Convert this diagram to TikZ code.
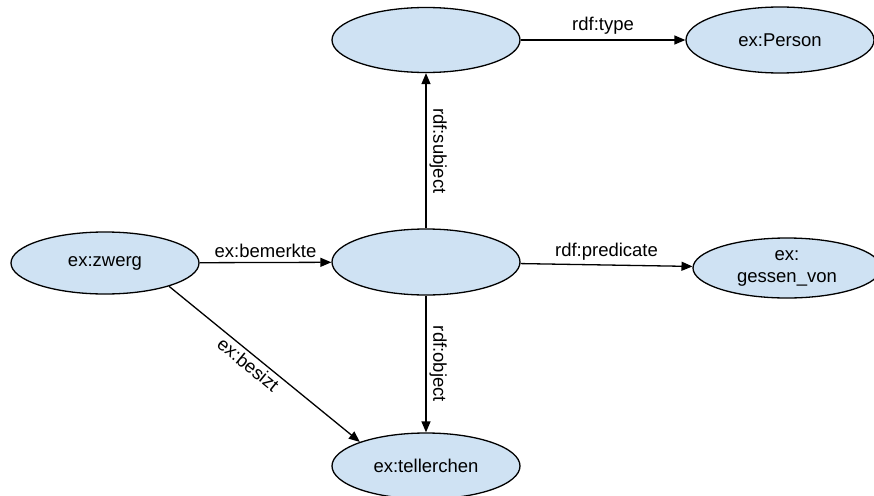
\documentclass[tikz,border=0pt]{standalone}
\usepackage{fontspec}
\setmainfont{Liberation Sans}
\usetikzlibrary{shapes.geometric,arrows.meta}
\definecolor{resfill}{RGB}{207,226,243}
\tikzset{
	res/.style={ellipse, draw=black, fill=resfill, line width=1.3pt, inner sep=0pt, align=center,
		minimum width=188pt, minimum height=64pt, font=\fontsize{18.5}{22}\selectfont},
	prop/.style={line width=1.3pt, -{Triangle[length=11pt,width=9pt]}},
	lab/.style={font=\fontsize{18.5}{22}\selectfont, inner sep=3pt}
}
\begin{document}
\begin{tikzpicture}[x=1pt,y=-1pt]
	\useasboundingbox (0,0) rectangle (874,495);

	\node[res, minimum height=65pt] (stmt) at (426,40) {};
	\node[res, minimum height=66pt] (person) at (780,40) {ex:Person};
	\node[res, minimum height=62pt] (zwerg) at (105,263) {ex:zwerg};
	\node[res, minimum height=66pt] (mid) at (426,262) {};
	\node[res, minimum height=60pt] (gessen) at (787,268) {ex:\\gessen\_von};
	\node[res, minimum height=66pt] (teller) at (426,466) {ex:tellerchen};

	\draw[prop] (stmt) -- node[lab, above=2pt] {rdf:type} (person);
	\draw[prop] (zwerg) -- node[lab, above=1pt] {ex:bemerkte} (mid);
	\draw[prop] (mid) -- node[lab, above=1pt] {rdf:predicate} (gessen);
	\draw[prop] (mid.north) -- node[lab, midway, anchor=south, rotate=-90] {rdf:subject} (stmt.south);
	\draw[prop] (mid.south) -- node[lab, midway, anchor=south, rotate=-90] {rdf:object} (teller.north);
	\draw[prop] (zwerg.-20) -- node[lab, pos=0.45, sloped, below] {ex:besizt} (teller.160);
\end{tikzpicture}
\end{document}
